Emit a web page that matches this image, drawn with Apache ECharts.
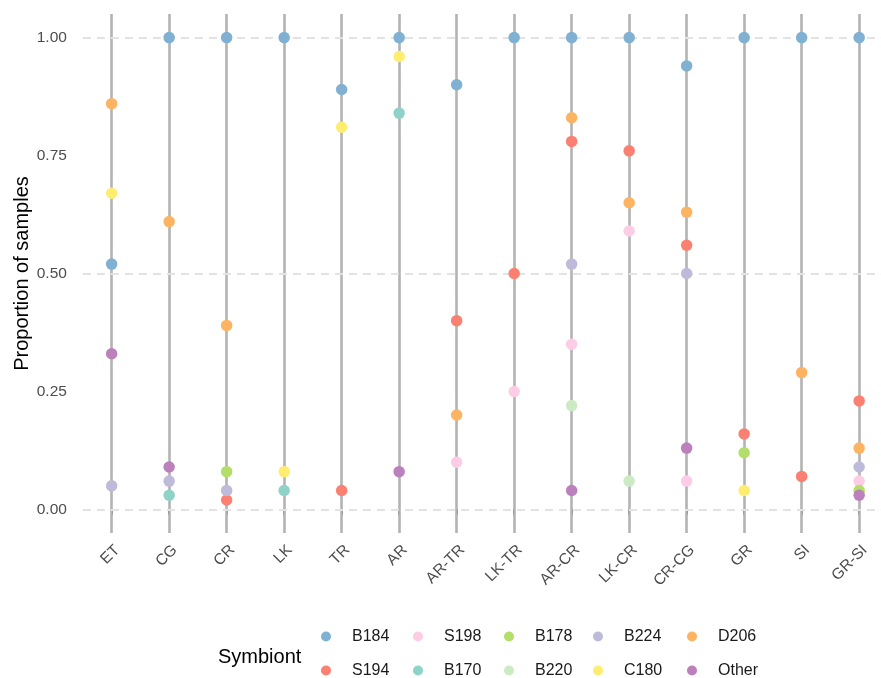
<!DOCTYPE html>
<html>
<head>
<meta charset="utf-8">
<script src="https://cdn.jsdelivr.net/npm/echarts@6/dist/echarts.min.js"></script>
<style>
html,body{margin:0;padding:0;background:#fff;}
#chart{width:881px;height:678px;}
</style>
</head>
<body>
<div id="chart"></div>
<script>
var categories = ['ET','CG','CR','LK','TR','AR','AR-TR','LK-TR','AR-CR','LK-CR','CR-CG','GR','SI','GR-SI'];
var yTickLabels = [0, 0.25, 0.5, 0.75, 1];
var gridValues = [0, 0.5, 1];

var B184  = [0.52, 1.00, 1.00, 1.00, 0.89, 1.00, 0.90, 1.00, 1.00, 1.00, 0.94, 1.00, 1.00, 1.00];
var S194  = [null, null, 0.02, null, 0.04, null, 0.40, 0.50, 0.78, 0.76, 0.56, 0.16, 0.07, 0.23];
var S198  = [null, null, null, null, null, null, 0.10, 0.25, 0.35, 0.59, 0.06, null, null, 0.06];
var B170  = [null, 0.03, null, 0.04, null, 0.84, null, null, null, null, null, null, null, null];
var B178  = [null, null, 0.08, null, null, null, null, null, null, null, null, 0.12, null, 0.04];
var B220  = [null, null, null, null, null, null, null, null, 0.22, 0.06, null, null, null, null];
var B224  = [0.05, 0.06, 0.04, null, null, null, null, null, 0.52, null, 0.50, null, null, 0.09];
var C180  = [0.67, null, null, 0.08, 0.81, 0.96, null, null, null, null, null, 0.04, null, null];
var D206  = [0.86, 0.61, 0.39, null, null, null, 0.20, null, 0.83, 0.65, 0.63, null, 0.29, 0.13];
var Other = [0.33, 0.09, null, null, null, 0.08, null, null, 0.04, null, 0.13, null, null, 0.03];

var seriesNames = ['B184','S194','S198','B170','B178','B220','B224','C180','D206','Other'];
var seriesValues = [B184, S194, S198, B170, B178, B220, B224, C180, D206, Other];
var seriesColors = ['#80b1d3','#fb8072','#fccde5','#8dd3c7','#b3de69','#ccebc5','#bebada','#ffed6f','#fdb462','#bc80bd'];

var legendColumns = [['B184','S194'],['S198','B170'],['B178','B220'],['B224','C180'],['D206','Other']];
var legendDotX = [326, 418, 509, 598, 692];
var legendRowY = [636, 670];

var font = '"Liberation Sans", Arial, Helvetica, sans-serif';
var chart = echarts.init(document.getElementById('chart'), null, {renderer: 'canvas'});

var series = [
  {
    type: 'scatter', name: '_vlines', data: [], silent: true,
    markLine: {
      z: 1, silent: true, symbol: ['none','none'], label: {show: false}, animation: false,
      lineStyle: {color: '#b3b3b3', width: 2.6, type: 'solid'},
      emphasis: {disabled: true},
      data: categories.map(function(c){ return {xAxis: c}; })
    }
  },
  {
    type: 'scatter', name: '_hlines', data: [], silent: true,
    markLine: {
      z: 2, silent: true, symbol: ['none','none'], label: {show: false}, animation: false,
      lineStyle: {color: '#e3e3e3', width: 2, type: [8, 6]},
      emphasis: {disabled: true},
      data: gridValues.map(function(v){ return {yAxis: v}; })
    }
  }
];
seriesNames.forEach(function(n, i){
  series.push({
    type: 'scatter', name: n, z: 10,
    symbol: 'circle', symbolSize: 11.5,
    itemStyle: {color: seriesColors[i], opacity: 1},
    data: seriesValues[i].map(function(v, j){ return v === null ? null : [categories[j], v]; })
  });
});

var legends = [];
legendColumns.forEach(function(col, k){
  col.forEach(function(n, r){
    legends.push({
      orient: 'horizontal', left: legendDotX[k] - 5, top: legendRowY[r] - 7.5,
      data: [{name: n, icon: 'circle'}],
      itemWidth: 10, itemHeight: 10, itemGap: 0, selectedMode: false, padding: 0,
      textStyle: {fontFamily: font, fontSize: 16, color: '#1a1a1a', lineHeight: 16, padding: [0,0,0,16]}
    });
  });
});

chart.setOption({
  animation: false,
  backgroundColor: '#ffffff',
  title: {
    text: 'Symbiont', left: 213, top: 642,
    textStyle: {fontFamily: font, fontSize: 20, fontWeight: 'normal', color: '#000'}
  },
  legend: legends,
  grid: {left: 82.9, top: 14, width: 805, height: 519, containLabel: false, outerBoundsMode: 'none'},
  xAxis: {
    type: 'category', data: categories, boundaryGap: true,
    axisLine: {show: false},
    axisTick: {show: true, alignWithLabel: true, length: 5, lineStyle: {color: '#333', width: 2}},
    axisLabel: {rotate: 45, margin: 9, verticalAlign: 'top', fontFamily: font, fontSize: 15.5, color: '#4d4d4d', interval: 0},
    splitLine: {show: false}
  },
  yAxis: {
    type: 'value', min: -0.05, max: 1.05,
    name: 'Proportion of samples', nameLocation: 'middle', nameGap: 50, nameMoveOverlap: false,
    nameTextStyle: {fontFamily: font, fontSize: 20, color: '#000'},
    axisLine: {show: false}, axisTick: {show: false}, splitLine: {show: false},
    axisLabel: {
      customValues: yTickLabels, margin: 16, fontFamily: font, fontSize: 15.5, color: '#4d4d4d',
      formatter: function(v){ return v.toFixed(2); }
    }
  },
  series: series
});
</script>
</body>
</html>
